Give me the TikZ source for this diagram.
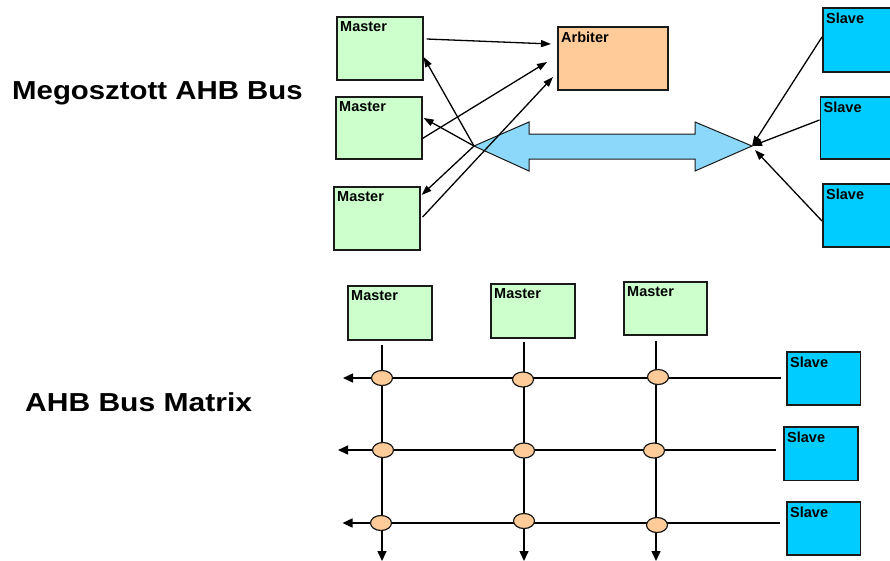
\documentclass[tikz,border=0pt]{standalone}
\usepackage{fontspec}
\usepackage{graphicx}
\setmainfont{Liberation Sans}
\usetikzlibrary{arrows.meta,calc,shapes.geometric}
\definecolor{mastergreen}{HTML}{CCFFCC}
\definecolor{arbiterorange}{HTML}{FFCC99}
\definecolor{slavecyan}{HTML}{00CCFF}
\definecolor{busblue}{HTML}{8CD8FA}
\definecolor{switchpeach}{HTML}{FFCC99}
\definecolor{edge}{HTML}{1A1A1A}

\begin{document}
\begin{tikzpicture}[x=1pt,y=-1pt,
  unitbox/.style={draw=edge, line width=1.6pt, inner sep=0pt, anchor=north west},
  masterbox/.style={unitbox, fill=mastergreen},
  arbiterbox/.style={unitbox, fill=arbiterorange},
  slavebox/.style={unitbox, fill=slavecyan},
  boxtitle/.style={anchor=north west, inner xsep=4pt, inner ysep=5.5pt,
    font=\fontsize{14.5}{16}\selectfont\bfseries},
  heading/.style={anchor=base west, inner sep=0pt,
    font=\fontsize{26}{30}\selectfont\bfseries},
  link/.style={draw=black, line width=1.3pt, -{Triangle[length=10pt,width=7pt]}},
  busarrow/.style={draw=edge, line width=1pt, fill=busblue, line join=miter},
  gridline/.style={draw=black, line width=1.5pt},
  gridarrow/.style={gridline, -{Triangle[length=10pt,width=9pt]}},
  junction/.style={ellipse, draw=edge, line width=1.2pt, fill=switchpeach,
    minimum width=21pt, minimum height=15pt, inner sep=0pt},
]
\useasboundingbox (0,0) rectangle (890,560);
\fill[white] (0,0) rectangle (890,560);
\clip (0,0) rectangle (890,560);

% ---- headings ----
\node[heading] (t1) at (12,99.5) {\scalebox{1.13}[1]{Megosztott AHB Bus}};
\node[heading] (t2) at (25,411) {\scalebox{1.155}[1]{AHB Bus Matrix}};

% ---- shared bus: masters, arbiter, slaves ----
\node[masterbox, minimum width=86pt, minimum height=63pt] (m1) at (336,16) {};
\node[boxtitle] (m1t) at (m1.north west) {Master};
\node[masterbox, minimum width=86pt, minimum height=62pt] (m2) at (335,96) {};
\node[boxtitle] (m2t) at (m2.north west) {Master};
\node[masterbox, minimum width=86pt, minimum height=63pt] (m3) at (333,186) {};
\node[boxtitle] (m3t) at (m3.north west) {Master};

\node[arbiterbox, minimum width=110pt, minimum height=63pt] (arb) at (557,26) {};
\node[boxtitle] (arbt) at (arb.north west) {Arbiter};

\node[slavebox, minimum width=74pt, minimum height=64pt] (s1) at (822,7) {};
\node[boxtitle] (s1t) at (s1.north west) {Slave};
\node[slavebox, minimum width=74pt, minimum height=62pt] (s2) at (819.5,96) {};
\node[boxtitle] (s2t) at (s2.north west) {Slave};
\node[slavebox, minimum width=74pt, minimum height=63pt] (s3) at (822,183) {};
\node[boxtitle] (s3t) at (s3.north west) {Slave};

% the bus itself: a two-headed block arrow
\coordinate (busL) at (474,146);
\coordinate (busR) at (752,146);
\draw[busarrow] (busL) -- (529,122) -- (529,134) -- (695,134) -- (695,122)
  -- (busR) -- (695,171) -- (695,159) -- (529,159) -- (529,171) -- cycle;

% requests to the arbiter
\draw[link] ($(m1.north east)+(3,23)$) -- ($(arb.north west)+(-6,18)$);
\draw[link] ($(m2.north east)+(-1,43)$) -- ($(arb.north west)+(-10,36)$);
\draw[link] ($(m3.north east)+(2,31)$) -- ($(arb.north west)+(-4,51)$);

% bus back to the masters
\draw[link] (busL) -- ($(m1.north east)+(0,41)$);
\draw[link] (busL) -- ($(m2.north east)+(1,22)$);
\draw[link] (busL) -- ($(m3.north east)+(1,9)$);

% slaves onto the bus
\draw[link] ($(s1.north west)+(0,30)$) -- (busR);
\draw[link] ($(s2.north west)+(0,24)$) -- (busR);
\draw[link] ($(s3.north west)+(0,38)$) -- ($(busR)+(3,4)$);

% ---- bus matrix ----
\node[masterbox, minimum width=84pt, minimum height=54pt] (ma) at (347,285) {};
\node[boxtitle] (mat) at (ma.north west) {Master};
\node[masterbox, minimum width=84pt, minimum height=54pt] (mb) at (490,283) {};
\node[boxtitle] (mbt) at (mb.north west) {Master};
\node[masterbox, minimum width=83pt, minimum height=53pt] (mc) at (623,281) {};
\node[boxtitle] (mct) at (mc.north west) {Master};

\node[slavebox, minimum width=73.5pt, minimum height=53pt] (bs1) at (786,351) {};
\node[boxtitle] (bs1t) at (bs1.north west) {Slave};
\node[slavebox, minimum width=74pt, minimum height=53.5pt] (bs2) at (783,426) {};
\node[boxtitle] (bs2t) at (bs2.north west) {Slave};
\node[slavebox, minimum width=73.5pt, minimum height=53pt] (bs3) at (786,501) {};
\node[boxtitle] (bs3t) at (bs3.north west) {Slave};

% grid lines
\coordinate (c1) at (382,0);
\coordinate (c2) at (524,0);
\coordinate (c3) at (656,0);
\coordinate (r1) at (0,378);
\coordinate (r2) at (0,450);
\coordinate (r3) at (0,523);
\coordinate (bot) at (0,561);
\coordinate (l1) at (343,378);
\coordinate (l2) at (338,450);
\coordinate (l3) at (342.5,523);

\draw[gridarrow] ([yshift=-4pt]ma.south -| c1) -- (c1 |- bot);
\draw[gridarrow] ([yshift=-3.5pt]mb.south -| c2) -- (c2 |- bot);
\draw[gridarrow] ([yshift=-5.5pt]mc.south -| c3) -- (c3 |- bot);

\draw[gridarrow] ([xshift=-5pt]bs1.west |- r1) -- (l1);
\draw[gridarrow] ([xshift=-7pt]bs2.west |- r2) -- (l2);
\draw[gridarrow] ([xshift=-6pt]bs3.west |- r3) -- (l3);

% crossbar switch points
\node[junction] (j11) at (c1 |- r1) {};
\node[junction] (j12) at ($(c2 |- r1)+(-1,1.5)$) {};
\node[junction] (j13) at ($(c3 |- r1)+(2,-1)$) {};
\node[junction] (j21) at ($(c1 |- r2)+(1,0)$) {};
\node[junction] (j22) at ($(c2 |- r2)+(0,0.5)$) {};
\node[junction] (j23) at ($(c3 |- r2)+(-2,0.5)$) {};
\node[junction] (j31) at ($(c1 |- r3)+(-1,0)$) {};
\node[junction] (j32) at ($(c2 |- r3)+(0,-2)$) {};
\node[junction] (j33) at ($(c3 |- r3)+(1,2)$) {};
\end{tikzpicture}
\end{document}
